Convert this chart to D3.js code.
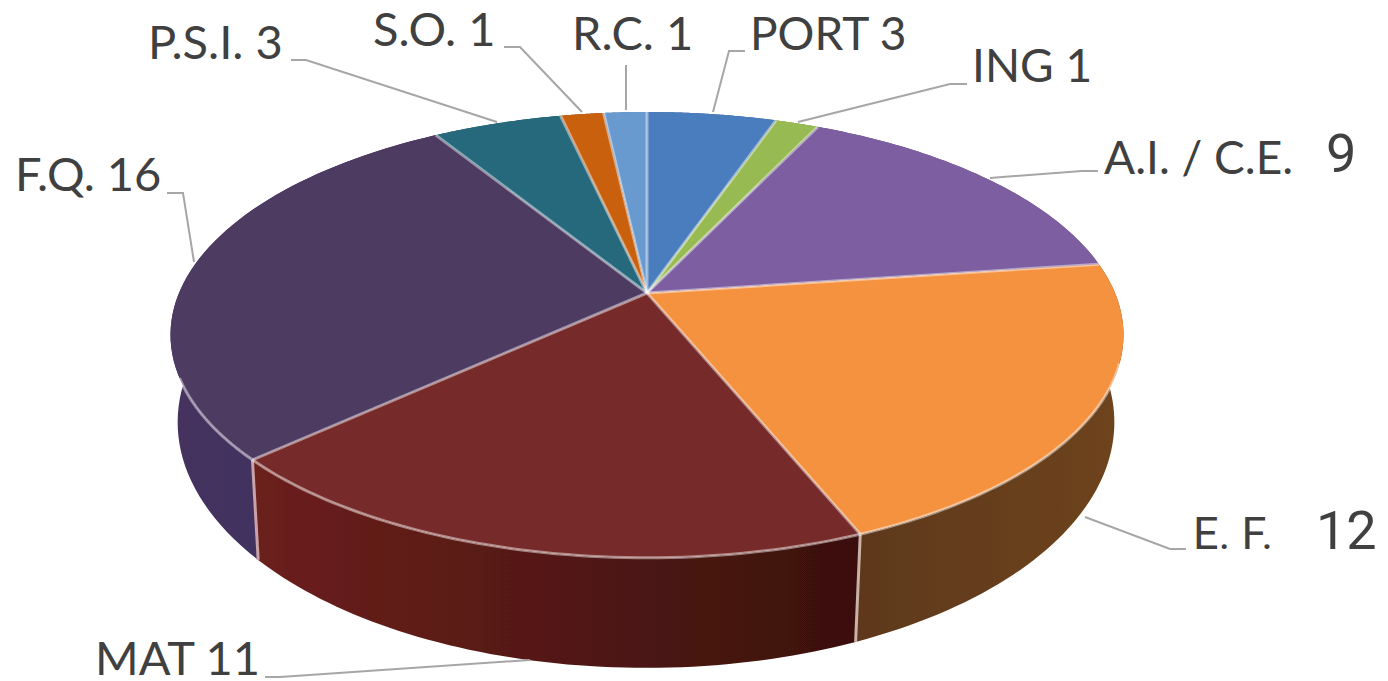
<!DOCTYPE html>
<html><head><meta charset="utf-8">
<script src="https://cdnjs.cloudflare.com/ajax/libs/d3/7.8.5/d3.min.js"></script>
<style>html,body{margin:0;padding:0;background:#fff;overflow:hidden}svg{display:block}text{font-family:Lato,"Open Sans",sans-serif;fill:#404040}</style>
</head><body><svg id="c" width="1388" height="681"></svg>
<script>
const categories = ["PORT","ING","A.I. / C.E.","E. F.","MAT","F.Q.","P.S.I.","S.O.","R.C."];
const values = [3,1,9,12,11,16,3,1,1];
const topColors = ["#4a7dbd","#98ba52","#7d5fa1","#f5923f","#772b2a","#4e3a62","#27697d","#c9600f","#679ad0"];
const wallStops = [["#3a5f8f","#3a5f8f"],["#6f8a3c","#6f8a3c"],["#5a4475","#5a4475"],["#6e441c","#5e381a"],["#3a100d","#6c201c"],["#40305f","#44325f"],["#1c4e5c","#1c4e5c"],["#8f440b","#8f440b"],["#4b729c","#4b729c"]];
const labelLayout = [
 {x:750,y:50,size:46,text:"PORT 3",line:[[745,51],[729,51],[713,112]]},
 {x:972,y:82,size:46,text:"ING 1",line:[[967,84],[950,84],[798,122]]},
 {x:1104,y:174,size:46,text:"A.I. / C.E.",line:[[1098,171],[1082,171],[990,178]],extra:{x:1326,y:172,text:"9"}},
 {x:1193,y:549,size:45,family:"Roboto",text:"E. F.",line:[[1186,549],[1170,549],[1085,517]],extra:{x:1316,y:549,text:"12"}},
 {x:95,y:675,size:47,text:"MAT 11",line:[[265,677],[280,677],[530,660]]},
 {x:15,y:191,size:47,text:"F.Q. 16",line:[[167,193],[183,193],[194,262]]},
 {x:148,y:59,size:47,text:"P.S.I. 3",line:[[291,60],[306,60],[497,122]]},
 {x:373,y:46,size:47,text:"S.O. 1",line:[[504,47],[520,47],[582,112]]},
 {x:572,y:50,size:47,text:"R.C. 1",line:[[626,65],[626,110]]}
];
const geo = {k:0.188,top:{cx:647,cy:293,A:468,B:215},bottom:{cx:646,cy:376,A:460,B:237}};
const svg = d3.select("#c");
const defs = svg.append("defs");
defs.append("filter").attr("id","soft").append("feGaussianBlur").attr("stdDeviation",0.5);
const pie = d3.pie().sort(null).value(d=>d);
const arcs = pie(values).map((d,i)=>({...d,i}));
function proj(a,g){const u=Math.sin(a),v=-Math.cos(a),w=1-geo.k*v;return [g.cx+g.A*u/w,g.cy+g.B*v/w];}
const steps=(a0,a1)=>d3.range(0,61).map(t=>a0+(a1-a0)*t/60);
const line=d3.line();
const chart=svg.append("g").attr("filter","url(#soft)");

const order=arcs.slice().sort((p,q)=>-Math.cos((q.startAngle+q.endAngle)/2)+Math.cos((p.startAngle+p.endAngle)/2));
order.forEach(d=>{
  const as=steps(d.startAngle,d.endAngle);
  const t=as.map(a=>proj(a,geo.top)), b=as.map(a=>proj(a,geo.bottom)).reverse();
  const xs=t.concat(b).map(p=>p[0]);
  const id="w"+d.i;
  const gr=defs.append("linearGradient").attr("id",id).attr("gradientUnits","userSpaceOnUse")
    .attr("x1",d3.max(xs)).attr("x2",d3.min(xs)).attr("y1",0).attr("y2",0);
  gr.append("stop").attr("offset",0).attr("stop-color",wallStops[d.i][0]);
  gr.append("stop").attr("offset",1).attr("stop-color",wallStops[d.i][1]);
  chart.append("path").attr("d",line(t.concat(b))+"Z").attr("fill",`url(#${id})`);
});
arcs.forEach(d=>{
  const a=d.endAngle; if(Math.cos(a)>0.0||d.i>=5) return;
  chart.append("path").attr("d",line([proj(a,geo.top),proj(a,geo.bottom)]))
    .attr("stroke",d.i===3?"#c9b3a6":"#c9a3a8").attr("stroke-width",3).attr("fill","none");
});
arcs.forEach(d=>{
  const pts=[[geo.top.cx,geo.top.cy]].concat(steps(d.startAngle,d.endAngle).map(a=>proj(a,geo.top)));
  chart.append("path").attr("d",line(pts)+"Z").attr("fill",topColors[d.i]);
});
arcs.forEach(d=>{
  chart.append("path").attr("d",line([[geo.top.cx,geo.top.cy],proj(d.endAngle,geo.top)]))
    .attr("stroke","#fff").attr("stroke-opacity",0.45).attr("stroke-width",3).attr("fill","none");
});
arcs.forEach(d=>{
  const a0=Math.max(d.startAngle,Math.PI*0.6), a1=Math.min(d.endAngle,Math.PI*1.38);
  if(a1<=a0) return;
  chart.append("path").attr("d",line(steps(a0,a1).map(a=>proj(a,geo.top))))
    .attr("stroke","#fff").attr("stroke-opacity",0.45).attr("stroke-width",3).attr("fill","none");
});
labelLayout.forEach(l=>{
  svg.append("path").attr("d",line(l.line)).attr("fill","none").attr("stroke","#a6a6a6").attr("stroke-width",2);
  const t=svg.append("text").attr("x",l.x).attr("y",l.y).attr("font-size",l.size).text(l.text);
  if(l.family) t.style("font-family",l.family);
  if(l.extra) svg.append("text").attr("x",l.extra.x).attr("y",l.extra.y).attr("font-size",54).style("font-family","Roboto").text(l.extra.text);
});
</script></body></html>
